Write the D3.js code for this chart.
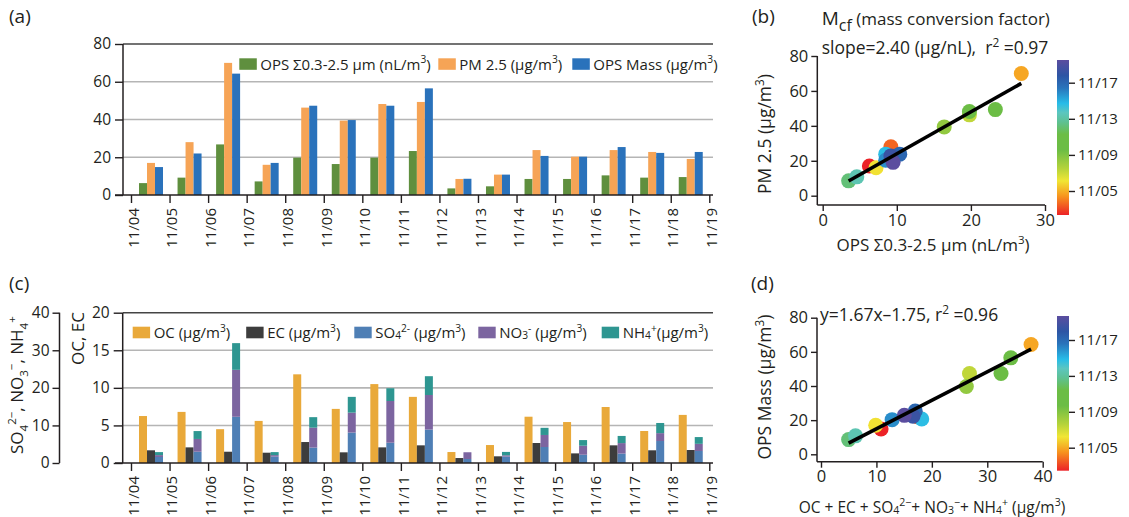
<!DOCTYPE html>
<html lang="en">
<head>
<meta charset="UTF-8">
<title>OPS / PM2.5 / composition</title>
<style>
  body { margin: 0; background: #fff; }
  svg { display: block; }
  text { font-family: "Open Sans", sans-serif; fill: #231f20; }
</style>
</head>
<body>
<svg width="1129" height="517"></svg>
<script src="https://d3js.org/d3.v7.min.js"></script>
<script>
// ---- data ----
var days = ["11/04","11/05","11/06","11/07","11/08","11/09","11/10","11/11",
            "11/12","11/13","11/14","11/15","11/16","11/17","11/18"];
var dayTicks = days.concat(["11/19"]);

var opsVol  = [6.3, 9.2, 26.8, 7.2, 19.8, 16.4, 19.8, 23.3, 3.5, 4.6, 8.5, 8.5, 10.4, 9.2, 9.5];
var pm25    = [17, 28, 70, 16, 46.3, 39.4, 48.2, 49.3, 8.5, 10.8, 23.8, 20.3, 23.8, 22.8, 19.1];
var opsMass = [14.8, 22, 64.3, 17, 47.3, 39.7, 47.3, 56.5, 8.6, 10.8, 20.7, 20.3, 25.4, 22.3, 22.8];

var oc  = [6.25, 6.8, 4.5, 5.6, 11.8, 7.2, 10.5, 8.8, 1.46, 2.39, 6.16, 5.45, 7.45, 4.26, 6.4];
var ec  = [1.69, 2.08, 1.5, 1.37, 2.79, 1.42, 2.08, 2.35, 0.66, 0.89, 2.66, 1.28, 2.35, 1.69, 1.73];
var so4 = [1.6, 3.0, 12.3, 1.7, 4.1, 8.1, 5.4, 8.9, 1.06, 1.7, 4.26, 2.2, 2.5, 5.85, 3.2];
var no3 = [0.5, 3.4, 12.5, 0.4, 5.3, 5.3, 11.1, 9.2, 1.8, 0.35, 3.2, 2.4, 2.8, 2.1, 1.9];
var nh4 = [0.8, 2.1, 7.1, 0.8, 2.8, 4.2, 3.4, 5.0, 0, 0.9, 1.9, 1.5, 1.9, 2.7, 1.8];

var fitB = {slope: 2.40, icpt: 0};
var fitD = {slope: 1.67, icpt: -1.75};

var cbTicks = [5, 9, 13, 17];
var cStops  = [0, 0.12, 0.22, 0.30, 0.42, 0.52, 0.60, 0.66, 0.72, 0.82, 0.90, 1];
var cColors = ["#ec2227","#f7931e","#f1e634","#b5d33b","#6cbd45","#6cbd45",
               "#5ec193","#5cc6bf","#27bce8","#2a74bb","#2d55a4","#5b4d9f"];

var INK = "#231f20", GRID = "#b5b5b5";

var svg = d3.select("svg");
svg.append("rect").attr("width", 1129).attr("height", 517).attr("fill", "#fff");

var colour = d3.scaleLinear().domain(cStops).range(cColors);

// text with sub/superscripts; parts = [[str, kind]]
function rich(sel, parts, size) {
  var cur = 0;
  parts.forEach(function (p) {
    var k = p[1] || "";
    var off = k === "sup" ? -0.42 : k === "sub" ? 0.3 : k === "sm" ? 0.08 : 0;
    sel.append("tspan")
        .attr("dy", (off - cur) * size)
        .attr("font-size", k ? size * 0.68 : size)
        .text(p[0]);
    cur = off;
  });
  return sel;
}

function styleAxis(g, size) {
  g.attr("font-family", null).attr("font-size", size).attr("color", INK);
  g.selectAll(".tick line").attr("stroke-width", 1.4);
  g.select(".domain").remove();
}

function hline(y, x1, x2, col, w) {
  svg.append("line").attr("x1", x1).attr("x2", x2).attr("y1", y).attr("y2", y)
      .attr("stroke", col).attr("stroke-width", w);
}
function vline(x, y1, y2, col, w) {
  svg.append("line").attr("x1", x).attr("x2", x).attr("y1", y1).attr("y2", y2)
      .attr("stroke", col).attr("stroke-width", w);
}

function panelLabel(t, x, y) {
  svg.append("text").attr("x", x).attr("y", y).attr("font-size", 19).text(t);
}

// ---- shared x for the time panels ----
var xA = d3.scaleLinear().domain([0, 15]).range([131, 709.3]);
var inner = d3.scaleBand().domain([0, 1, 2]).range([8, 32]);

function dayAxis(y0) {
  var g = svg.append("g").attr("transform", "translate(0," + y0 + ")")
      .call(d3.axisBottom(xA).tickValues(d3.range(16)).tickSize(8).tickSizeOuter(0)
            .tickFormat(function (i) { return dayTicks[i]; }));
  styleAxis(g, 15);
  g.selectAll(".tick text")
      .attr("transform", "rotate(-90)")
      .attr("text-anchor", "end")
      .attr("x", -13).attr("y", 2).attr("dy", "0.35em");
  hline(y0, 115, 713, INK, 1.5);
}

// ================= (a) =================
panelLabel("(a)", 9, 23);
var yA = d3.scaleLinear().domain([0, 80]).range([195, 44]);
[20, 40, 60].forEach(function (v) { hline(yA(v), 123, 713, GRID, 1.6); });
hline(yA(80), 123, 713, "#444", 1.5);

var seriesA = [
  {vals: opsVol, col: "#5f8f3e"},
  {vals: pm25, col: "#f6a456"},
  {vals: opsMass, col: "#2a72bb"}
];
seriesA.forEach(function (s, k) {
  svg.append("g").selectAll("rect").data(s.vals).join("rect")
      .attr("x", function (d, i) { return xA(i) + inner(k); })
      .attr("width", inner.bandwidth())
      .attr("y", function (d) { return yA(d); })
      .attr("height", function (d) { return yA(0) - yA(d); })
      .attr("fill", s.col);
});

var gyA = svg.append("g").attr("transform", "translate(123,0)")
    .call(d3.axisLeft(yA).tickValues([0, 20, 40, 60, 80]).tickSize(8).tickPadding(4));
styleAxis(gyA, 15.5);
vline(123, yA(80), yA(0), INK, 1.5);
dayAxis(195);

var legA = [
  {x: 239.3, col: "#5f8f3e", parts: [["OPS Σ0.3-2.5 µm (nL/m"], ["3", "sup"], [")"]]},
  {x: 438.3, col: "#f6a456", parts: [["PM 2.5 (µg/m"], ["3", "sup"], [")"]]},
  {x: 572.3, col: "#2a72bb", parts: [["OPS Mass (µg/m"], ["3", "sup"], [")"]]}
];
legA.forEach(function (l) {
  svg.append("rect").attr("x", l.x).attr("y", 58.3).attr("width", 17.5).attr("height", 11.5).attr("fill", l.col);
  rich(svg.append("text").attr("x", l.x + 21).attr("y", 69.5), l.parts, 15);
});

// ================= (c) =================
panelLabel("(c)", 9, 290);
var yR = d3.scaleLinear().domain([0, 20]).range([463, 312.7]);
var yL = d3.scaleLinear().domain([0, 40]).range([463, 312.7]);
[5, 10, 15].forEach(function (v) { hline(yR(v), 123, 713, GRID, 1.6); });
hline(yR(20), 123, 713, "#444", 1.5);

var colC = {oc: "#e9a93a", ec: "#3d3d3d", so4: "#4f7fb5", no3: "#7c65a0", nh4: "#2e9691"};

[[oc, colC.oc], [ec, colC.ec]].forEach(function (s, k) {
  svg.append("g").selectAll("rect").data(s[0]).join("rect")
      .attr("x", function (d, i) { return xA(i) + inner(k); })
      .attr("width", inner.bandwidth())
      .attr("y", function (d) { return yR(d); })
      .attr("height", function (d) { return yR(0) - yR(d); })
      .attr("fill", s[1]);
});

var ionRows = days.map(function (d, i) { return {i: i, so4: so4[i], no3: no3[i], nh4: nh4[i]}; });
var stacked = d3.stack().keys(["so4", "no3", "nh4"])(ionRows);
svg.append("g").selectAll("g").data(stacked).join("g")
    .attr("fill", function (s) { return colC[s.key]; })
  .selectAll("rect").data(function (s) { return s; }).join("rect")
    .attr("x", function (d) { return xA(d.data.i) + inner(2); })
    .attr("width", inner.bandwidth())
    .attr("y", function (d) { return yL(d[1]); })
    .attr("height", function (d) { return yL(d[0]) - yL(d[1]); });

var gyR = svg.append("g").attr("transform", "translate(122.7,0)")
    .call(d3.axisLeft(yR).tickValues([0, 5, 10, 15, 20]).tickSize(9).tickPadding(4));
styleAxis(gyR, 15.5);
vline(122.7, yR(20), yR(0), INK, 1.5);

var gyL = svg.append("g").attr("transform", "translate(59.5,0)")
    .call(d3.axisLeft(yL).tickValues([0, 10, 20, 30, 40]).tickSize(7).tickPadding(3));
styleAxis(gyL, 15.5);
vline(59.5, yL(40), yL(0), INK, 1.5);
dayAxis(463);

rich(svg.append("text").attr("transform", "translate(23,454) rotate(-90)"),
  [["SO"], ["4", "sub"], ["2−", "sup"], [", NO"], ["3", "sub"], ["−", "sup"], [", NH"], ["4", "sub"], ["+", "sup"]], 17);
svg.append("text").attr("transform", "translate(84,312) rotate(-90)")
    .attr("text-anchor", "end").attr("font-size", 17).text("OC, EC");

var legC = [
  {x: 132.7, col: colC.oc, parts: [["OC (µg/m"], ["3", "sup"], [")"]]},
  {x: 246.2, col: colC.ec, parts: [["EC (µg/m"], ["3", "sup"], [")"]]},
  {x: 354.3, col: colC.so4, parts: [["SO"], ["4", "sm"], ["2-", "sup"], [" (µg/m"], ["3", "sup"], [")"]]},
  {x: 478.3, col: colC.no3, parts: [["NO"], ["3", "sm"], ["-", "sup"], [" (µg/m"], ["3", "sup"], [")"]]},
  {x: 601.7, col: colC.nh4, parts: [["NH"], ["4", "sm"], ["+", "sup"], ["(µg/m"], ["3", "sup"], [")"]]}
];
legC.forEach(function (l) {
  svg.append("rect").attr("x", l.x).attr("y", 326.7).attr("width", 17.4).attr("height", 11.6).attr("fill", l.col);
  rich(svg.append("text").attr("x", l.x + 21).attr("y", 338), l.parts, 15);
});

// ================= scatter panels =================
function colourBar(x, y0, y1, scale) {
  var id = "cb" + Math.round(y0);
  var grad = svg.append("defs").append("linearGradient").attr("id", id)
      .attr("x1", 0).attr("y1", 1).attr("x2", 0).attr("y2", 0);
  grad.selectAll("stop").data(cStops).join("stop")
      .attr("offset", function (t) { return t; })
      .attr("stop-color", function (t) { return colour(t); });
  svg.append("rect").attr("x", x).attr("y", y0).attr("width", 12).attr("height", y1 - y0)
      .attr("fill", "url(#" + id + ")");
  var g = svg.append("g").attr("transform", "translate(" + (x + 12) + ",0)")
      .call(d3.axisRight(scale).tickValues(cbTicks).tickSize(6).tickPadding(3)
            .tickFormat(function (d) { return "11/" + String(d).padStart(2, "0"); }));
  styleAxis(g, 15);
}

function scatter(o) {
  var g = svg.append("g");
  var pts = days.map(function (d, i) { return {x: o.xv[i], y: o.yv[i], i: i}; });

  g.selectAll("circle").data(pts).join("circle")
      .attr("cx", function (d) { return o.xs(d.x); })
      .attr("cy", function (d) { return o.ys(d.y); })
      .attr("r", 7.5)
      .attr("fill", function (d) { return colour(d.i / (days.length - 1)); });

  // fit line over the data range, drawn on top
  g.append("path")
      .datum(d3.extent(o.xv))
      .attr("d", d3.line()
          .x(function (v) { return o.xs(v); })
          .y(function (v) { return o.ys(o.fit.slope * v + o.fit.icpt); }))
      .attr("stroke", "#000").attr("stroke-width", 3.6).attr("fill", "none");

  var gy = svg.append("g").attr("transform", "translate(" + o.ax + ",0)")
      .call(d3.axisLeft(o.ys).tickValues([0, 20, 40, 60, 80]).tickSize(6).tickPadding(3));
  styleAxis(gy, 16.5);
  vline(o.ax, o.ys(80), o.ay, INK, 1.5);

  var gx = svg.append("g").attr("transform", "translate(0," + o.ay + ")")
      .call(d3.axisBottom(o.xs).tickValues(o.xticks).tickSize(6).tickPadding(3));
  styleAxis(gx, 16.5);
  hline(o.ay, o.ax, o.xs.range()[1], INK, 1.5);
}

// ---- (b)
panelLabel("(b)", 752, 23);
var xB = d3.scaleLinear().domain([0, 30]).range([822.7, 1045]);
var yB = d3.scaleLinear().domain([0, 80]).range([195.7, 56]);
scatter({xs: xB, ys: yB, xv: opsVol, yv: pm25, fit: fitB, ax: 817.3, ay: 205, xticks: [0, 10, 20, 30]});
colourBar(1057, 60, 215, d3.scaleLinear().domain([5, 17]).range([191, 82.7]));

var tB = svg.append("text").attr("x", 821.7).attr("y", 25);
tB.append("tspan").attr("font-size", 19).text("M");
tB.append("tspan").attr("font-size", 16).attr("dy", 6).text("cf");
tB.append("tspan").attr("font-size", 17).attr("dy", -6).text(" (mass conversion factor)");
rich(svg.append("text").attr("x", 821.7).attr("y", 54).style("white-space", "pre"),
  [["slope=" + fitB.slope.toFixed(2) + " (µg/nL),  r"], ["2", "sup"], [" =0.97"]], 17.5);

rich(svg.append("text").attr("transform", "translate(771,134) rotate(-90)").attr("text-anchor", "middle"),
  [["PM 2.5 (µg/m"], ["3", "sup"], [")"]], 17.5);
rich(svg.append("text").attr("x", 933).attr("y", 251).attr("text-anchor", "middle"),
  [["OPS Σ0.3-2.5 µm (nL/m"], ["3", "sup"], [")"]], 17);

// ---- (d)
panelLabel("(d)", 751, 290);
var xD = d3.scaleLinear().domain([0, 40]).range([821, 1042.7]);
var yD = d3.scaleLinear().domain([0, 80]).range([454.3, 317.7]);
var sumComp = days.map(function (d, i) { return oc[i] + ec[i] + so4[i] + no3[i] + nh4[i]; });
scatter({xs: xD, ys: yD, xv: sumComp, yv: opsMass, fit: fitD, ax: 817, ay: 461.7, xticks: [0, 10, 20, 30, 40]});
colourBar(1057, 316, 470.7, d3.scaleLinear().domain([5, 17]).range([447.7, 340]));

rich(svg.append("text").attr("x", 820).attr("y", 321).style("white-space", "pre"),
  [["y=" + fitD.slope.toFixed(2) + "x–" + Math.abs(fitD.icpt).toFixed(2) + ", r"], ["2", "sup"], [" =0.96"]], 17.5);
rich(svg.append("text").attr("transform", "translate(771,387) rotate(-90)").attr("text-anchor", "middle"),
  [["OPS Mass (µg/m"], ["3", "sup"], [")"]], 17.5);
rich(svg.append("text").attr("x", 932).attr("y", 513).attr("text-anchor", "middle"),
  [["OC + EC + SO"], ["4", "sm"], ["2−", "sup"], ["+ NO"], ["3", "sm"], ["−", "sup"], ["+ NH"], ["4", "sm"], ["+", "sup"], [" (µg/m"], ["3", "sup"], [")"]], 15.5);
</script>
</body>
</html>
